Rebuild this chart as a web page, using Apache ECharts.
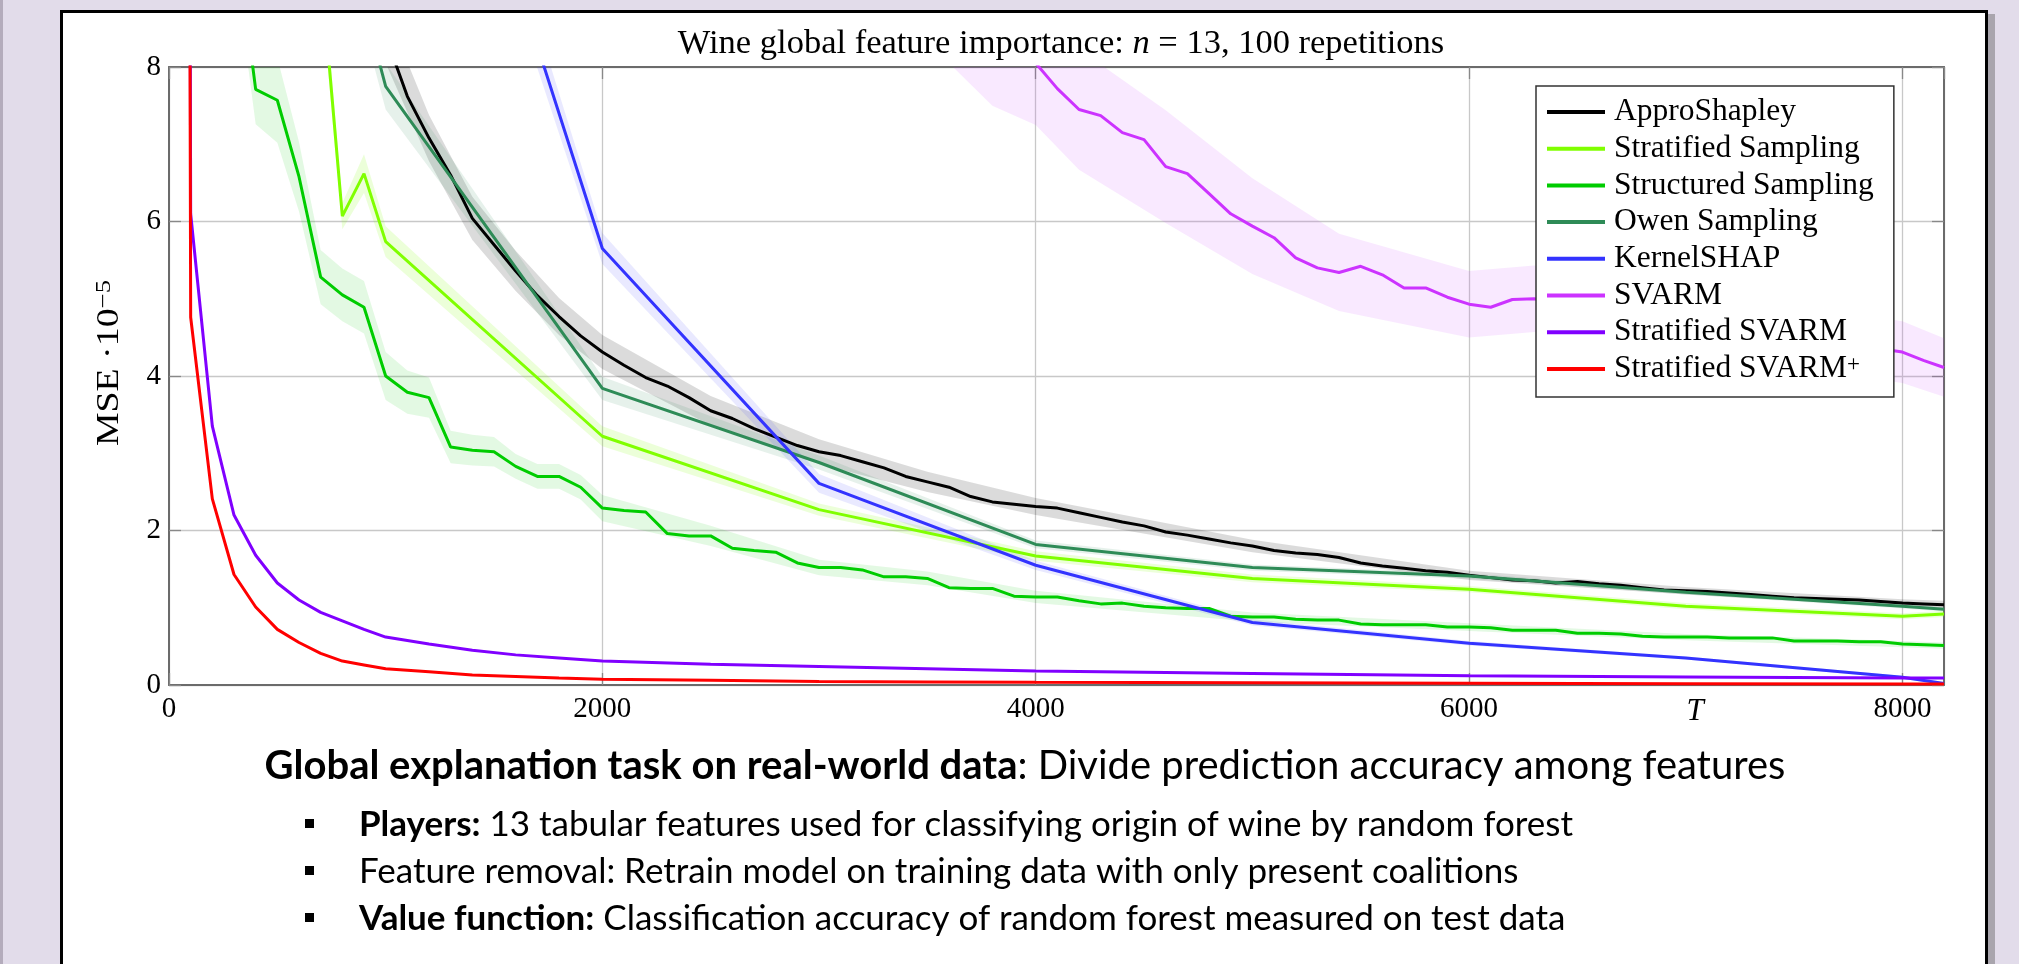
<!DOCTYPE html>
<html>
<head>
<meta charset="utf-8">
<script src="https://cdn.jsdelivr.net/npm/echarts@6.0.0/dist/echarts.min.js"></script>
<style>
html, body { margin: 0; padding: 0; background: #e2dcea; }
#chart { width: 2019px; height: 964px; }
</style>
</head>
<body>
<div id="chart"></div>
<script>
var chartDom = document.getElementById('chart');
var myChart = echarts.init(chartDom);

// [T, MSE * 1e5]
var approShapley = [
  [1000, 8.4], [1100, 7.62], [1200, 7.08], [1300, 6.6], [1400, 6.04], [1500, 5.7], [1600, 5.36], [1700, 5.04], [1800, 4.77], [1900, 4.52], [2000, 4.31],
  [2100, 4.14], [2200, 3.98], [2300, 3.87], [2400, 3.72], [2500, 3.55], [2600, 3.45], [2700, 3.32], [2800, 3.21], [2900, 3.10], [3000, 3.02],
  [3100, 2.97], [3200, 2.89], [3300, 2.81], [3400, 2.70], [3500, 2.63], [3600, 2.56], [3700, 2.44], [3800, 2.37], [3900, 2.34], [4000, 2.31],
  [4100, 2.29], [4200, 2.23], [4300, 2.17], [4400, 2.11], [4500, 2.06], [4600, 1.98], [4700, 1.94], [4800, 1.89], [4900, 1.84], [5000, 1.80],
  [5100, 1.74], [5200, 1.71], [5300, 1.69], [5400, 1.65], [5500, 1.58], [5600, 1.54], [5700, 1.51], [5800, 1.48], [5900, 1.46], [6000, 1.42],
  [6100, 1.39], [6200, 1.36], [6300, 1.35], [6400, 1.32], [6500, 1.34], [6600, 1.31], [6700, 1.29], [6800, 1.26], [6900, 1.23], [7000, 1.22],
  [7100, 1.21], [7200, 1.19], [7300, 1.17], [7400, 1.15], [7500, 1.13], [7600, 1.12], [7700, 1.11], [7800, 1.10], [7900, 1.08], [8000, 1.06],
  [8100, 1.05], [8192, 1.04]
];
var stratifiedSampling = [
  [700, 9.3], [800, 6.07], [900, 6.62], [1000, 5.74], [2000, 3.22], [3000, 2.27], [4000, 1.67],
  [5000, 1.38], [6000, 1.24], [7000, 1.02], [8000, 0.89], [8192, 0.92]
];
var structuredSampling = [
  [300, 9.9], [400, 7.71], [500, 7.57], [600, 6.58], [700, 5.28], [800, 5.05], [900, 4.89], [1000, 4.0],
  [1100, 3.79], [1200, 3.72], [1300, 3.08], [1400, 3.04], [1500, 3.02], [1600, 2.83], [1700, 2.70], [1800, 2.70], [1900, 2.56], [2000, 2.29],
  [2100, 2.26], [2200, 2.24], [2300, 1.96], [2400, 1.93], [2500, 1.93], [2600, 1.77], [2700, 1.74], [2800, 1.72], [2900, 1.58], [3000, 1.52],
  [3100, 1.52], [3200, 1.49], [3300, 1.40], [3400, 1.40], [3500, 1.38], [3600, 1.26], [3700, 1.25], [3800, 1.25], [3900, 1.15], [4000, 1.14],
  [4100, 1.14], [4200, 1.09], [4300, 1.05], [4400, 1.06], [4500, 1.02], [4600, 1.00], [4700, 0.99], [4800, 0.99], [4900, 0.89], [5000, 0.88],
  [5100, 0.88], [5200, 0.85], [5300, 0.84], [5400, 0.84], [5500, 0.79], [5600, 0.78], [5700, 0.78], [5800, 0.78], [5900, 0.75], [6000, 0.75],
  [6100, 0.74], [6200, 0.71], [6300, 0.71], [6400, 0.71], [6500, 0.67], [6600, 0.67], [6700, 0.66], [6800, 0.63], [6900, 0.62], [7000, 0.62],
  [7100, 0.62], [7200, 0.61], [7300, 0.61], [7400, 0.61], [7500, 0.57], [7600, 0.57], [7700, 0.57], [7800, 0.56], [7900, 0.56], [8000, 0.53],
  [8100, 0.52], [8192, 0.51]
];
var owenSampling = [
  [900, 8.8], [1000, 7.75], [2000, 3.84], [3000, 2.88], [4000, 1.82], [5000, 1.52],
  [6000, 1.41], [7000, 1.2], [8000, 1.02], [8192, 0.98]
];
var kernelShap = [
  [1000, 14.4], [2000, 5.65], [3000, 2.61], [4000, 1.55], [5000, 0.81], [6000, 0.54],
  [7000, 0.35], [8000, 0.1], [8192, 0.02]
];
var svarm = [
  [3600, 8.9], [3800, 8.5], [3900, 8.3], [4000, 8.05], [4100, 7.72], [4200, 7.45], [4300, 7.37], [4400, 7.15], [4500, 7.06],
  [4600, 6.71], [4700, 6.62], [4800, 6.36], [4900, 6.10], [5000, 5.94], [5100, 5.79], [5200, 5.53], [5300, 5.40], [5400, 5.34],
  [5500, 5.42], [5600, 5.31], [5700, 5.14], [5800, 5.14], [5900, 5.02], [6000, 4.93], [6100, 4.89], [6200, 4.99], [6300, 5.0],
  [8000, 4.31], [8100, 4.2], [8192, 4.11]
];
var stratifiedSvarm = [
  [50, 70], [100, 6.1], [200, 3.35], [300, 2.2], [400, 1.68], [500, 1.32], [600, 1.1], [700, 0.94], [800, 0.83], [900, 0.72],
  [1000, 0.62], [1200, 0.53], [1400, 0.45], [1600, 0.39], [1800, 0.35], [2000, 0.31], [2500, 0.27], [3000, 0.24], [3500, 0.21],
  [4000, 0.18], [4500, 0.165], [5000, 0.15], [6000, 0.12], [7000, 0.105], [8000, 0.09], [8192, 0.09]
];
var stratifiedSvarmPlus = [
  [50, 60], [100, 4.76], [200, 2.41], [300, 1.43], [400, 1.01], [500, 0.72], [600, 0.55], [700, 0.41], [800, 0.31], [900, 0.26],
  [1000, 0.21], [1200, 0.17], [1400, 0.13], [1600, 0.11], [1800, 0.09], [2000, 0.075], [2500, 0.06], [3000, 0.045], [3500, 0.04],
  [4000, 0.035], [5000, 0.028], [6000, 0.022], [7000, 0.017], [8000, 0.013], [8192, 0.012]
];

// [T, half width of the shaded band]
var approShapleyBand = [[1000, 0.35], [1200, 0.3], [1400, 0.28], [1600, 0.26], [1800, 0.24], [2000, 0.22], [2500, 0.19], [3000, 0.16],
  [3500, 0.13], [4000, 0.11], [5000, 0.08], [6000, 0.06], [7000, 0.05], [8000, 0.05], [8192, 0.05]];
var stratifiedBand = [[700, 0.3], [800, 0.17], [900, 0.25], [1000, 0.2], [2000, 0.13], [3000, 0.08], [4000, 0.06], [5000, 0.05],
  [6000, 0.04], [7000, 0.04], [8000, 0.04], [8192, 0.04]];
var structuredBand = [[300, 0.5], [400, 0.45], [500, 0.55], [600, 0.45], [700, 0.35], [800, 0.34], [900, 0.34], [1000, 0.31],
  [1100, 0.28], [1200, 0.26], [1300, 0.21], [1400, 0.2], [1500, 0.19], [1600, 0.16], [1700, 0.16], [1800, 0.16], [1900, 0.16],
  [2000, 0.17], [2500, 0.13], [3000, 0.1], [3500, 0.09], [4000, 0.08], [5000, 0.06], [6000, 0.05], [7000, 0.04], [8000, 0.04], [8192, 0.04]];
var owenBand = [[900, 0.3], [1000, 0.3], [2000, 0.15], [3000, 0.09], [4000, 0.05], [5000, 0.04], [6000, 0.035], [7000, 0.03],
  [8000, 0.03], [8192, 0.03]];
var kernelBand = [[1000, 0.5], [2000, 0.2], [3000, 0.12], [4000, 0.06], [5000, 0.04], [6000, 0.03], [7000, 0.02], [8000, 0.02], [8192, 0.02]];
var svarmBand = [[3600, 0.85], [3800, 1.0], [4000, 0.8], [4200, 0.78], [4600, 0.73], [5000, 0.62], [5400, 0.5], [6000, 0.43],
  [6300, 0.43], [8000, 0.4], [8192, 0.38]];

var names = ['ApproShapley', 'Stratified Sampling', 'Structured Sampling', 'Owen Sampling', 'KernelSHAP',
  'SVARM', 'Stratified SVARM', 'Stratified SVARM+'];
var lines = [approShapley, stratifiedSampling, structuredSampling, owenSampling, kernelShap,
  svarm, stratifiedSvarm, stratifiedSvarmPlus];
var colors = ['#000000', '#80ff00', '#00cc00', '#2e8b57', '#3333ff', '#cc33ff', '#8000ff', '#ff0000'];

var serif = 'Liberation Serif';
var sans = 'Lato';

function bandSeries(line, spread, fill) {
  var pts = spread.map(function (s) {
    var hit = line.find(function (p) { return p[0] === s[0]; });
    return [s[0], hit[1], s[1]];
  });
  return {
    type: 'custom',
    z: 1,
    clip: true,
    silent: true,
    data: [[pts[0][0], pts[0][1]]],
    renderItem: function (params, api) {
      var upper = pts.map(function (p) { return api.coord([p[0], p[1] + p[2]]); });
      var lower = pts.map(function (p) { return api.coord([p[0], p[1] - p[2]]); }).reverse();
      return { type: 'polygon', shape: { points: upper.concat(lower) }, style: { fill: fill } };
    }
  };
}

var series = [
  bandSeries(approShapley, approShapleyBand, 'rgba(0,0,0,0.14)'),
  bandSeries(stratifiedSampling, stratifiedBand, 'rgba(128,255,0,0.15)'),
  bandSeries(structuredSampling, structuredBand, 'rgba(0,200,0,0.11)'),
  bandSeries(owenSampling, owenBand, 'rgba(46,139,87,0.12)'),
  bandSeries(kernelShap, kernelBand, 'rgba(51,51,255,0.11)'),
  bandSeries(svarm, svarmBand, 'rgba(204,51,255,0.11)')
];
names.forEach(function (name, i) {
  series.push({
    name: name,
    type: 'line',
    data: lines[i],
    symbol: 'none',
    z: 3,
    color: colors[i],
    lineStyle: { width: 3, color: colors[i] }
  });
});

var axisGray = '#6b6b6b';
function xAxisDef(pos, labels) {
  return {
    type: 'value', position: pos, min: 0, max: 8192, interval: 2000,
    axisLine: { show: true, onZero: false, lineStyle: { color: axisGray, width: 2 } },
    axisTick: { show: true, inside: true, length: 12, lineStyle: { color: '#888', width: 1.3 } },
    axisLabel: {
      show: labels, showMaxLabel: false, margin: 10, color: '#000', fontFamily: serif, fontSize: 29,
      formatter: function (v) { return String(v); }
    },
    splitLine: { show: labels, lineStyle: { color: '#c8c8c8', width: 1.3 } }
  };
}
function yAxisDef(pos, labels) {
  return {
    type: 'value', position: pos, min: 0, max: 8, interval: 2,
    axisLine: { show: true, onZero: false, lineStyle: { color: axisGray, width: 2 } },
    axisTick: { show: true, inside: true, length: 12, lineStyle: { color: '#888', width: 1.3 } },
    axisLabel: { show: labels, margin: 8, color: '#000', fontFamily: serif, fontSize: 29 },
    splitLine: { show: labels, lineStyle: { color: '#c8c8c8', width: 1.3 } }
  };
}

option = {
  backgroundColor: '#e2dcea',
  animation: false,
  title: {
    text: '{a|Wine global feature importance: }{i|n}{a| = 13, 100 repetitions}',
    left: 1056,
    top: 21,
    textAlign: 'center',
    textStyle: {
      fontWeight: 'normal',
      rich: {
        a: { fontFamily: serif, fontSize: 34.5, fontWeight: 'normal', color: '#000' },
        i: { fontFamily: serif, fontSize: 34.5, fontWeight: 'normal', fontStyle: 'italic', color: '#000' }
      }
    }
  },
  grid: { left: 169, right: 75, top: 67, bottom: 279, containLabel: false, outerBoundsMode: 'none' },
  xAxis: [xAxisDef('bottom', true), xAxisDef('top', false)],
  yAxis: [yAxisDef('left', true), yAxisDef('right', false)],
  legend: {
    data: names,
    orient: 'vertical',
    left: 1536,
    top: 86,
    backgroundColor: '#fff',
    borderColor: '#333',
    borderWidth: 1.5,
    padding: [10, 20, 12, 11],
    itemWidth: 58,
    itemHeight: 30,
    itemGap: 4.7,
    icon: 'path://M0,0L58,0L58,4L0,4Z',
    selectedMode: false,
    formatter: function (name) {
      if (name === 'Stratified SVARM+') return '{a|Stratified SVARM}{s|+}';
      return '{a|' + name + '}';
    },
    textStyle: {
      color: '#000',
      rich: {
        a: { fontFamily: serif, fontSize: 31.5, color: '#000', lineHeight: 30, padding: [0, 0, 0, 4] },
        s: { fontFamily: serif, fontSize: 23, color: '#000', verticalAlign: 'top', lineHeight: 30 }
      }
    }
  },
  graphic: {
    elements: [
      { type: 'rect', z: -100, shape: { x: 0, y: 0, width: 3, height: 964 }, style: { fill: '#b4acbc' } },
      { type: 'rect', z: -99, shape: { x: 1988, y: 14, width: 7, height: 960 }, style: { fill: '#a9a5ad' } },
      { type: 'rect', z: -98, shape: { x: 61.5, y: 11.5, width: 1925, height: 1000 }, style: { fill: '#fff', stroke: '#000', lineWidth: 3 } },
      {
        type: 'text', z: 50, x: 110, y: 363, rotation: Math.PI / 2, scaleX: 1.22,
        style: {
          text: '{a|MSE ·10}{s|−5}', align: 'center', verticalAlign: 'middle',
          rich: {
            a: { fontFamily: serif, fontSize: 31, fill: '#000', lineHeight: 34 },
            s: { fontFamily: serif, fontSize: 22, fill: '#000', verticalAlign: 'top', lineHeight: 34 }
          }
        }
      },
      {
        type: 'text', z: 50, x: 1695, y: 712,
        style: { text: 'T', align: 'center', verticalAlign: 'middle', fontFamily: serif, fontSize: 31, fontStyle: 'italic', fill: '#000' }
      },
      {
        type: 'text', z: 50, x: 1025, y: 766,
        style: {
          text: '{b|Global explanation task on real-world data}{r|: Divide prediction accuracy among features}',
          align: 'center', verticalAlign: 'middle',
          rich: {
            b: { fontFamily: sans, fontWeight: 'bold', fontSize: 40, fill: '#000' },
            r: { fontFamily: sans, fontSize: 40, fill: '#000' }
          }
        }
      },
      { type: 'rect', z: 50, shape: { x: 305, y: 819, width: 9, height: 9 }, style: { fill: '#000' } },
      { type: 'rect', z: 50, shape: { x: 305, y: 866, width: 9, height: 9 }, style: { fill: '#000' } },
      { type: 'rect', z: 50, shape: { x: 305, y: 913, width: 9, height: 9 }, style: { fill: '#000' } },
      {
        type: 'text', z: 50, x: 359, y: 825,
        style: {
          text: '{b|Players:}{r| 13 tabular features used for classifying origin of wine by random forest}',
          align: 'left', verticalAlign: 'middle',
          rich: {
            b: { fontFamily: sans, fontWeight: 'bold', fontSize: 35, fill: '#000' },
            r: { fontFamily: sans, fontSize: 35, fill: '#000' }
          }
        }
      },
      {
        type: 'text', z: 50, x: 359, y: 872,
        style: { text: 'Feature removal: Retrain model on training data with only present coalitions', align: 'left', verticalAlign: 'middle',
          fontFamily: sans, fontSize: 35, fill: '#000' }
      },
      {
        type: 'text', z: 50, x: 359, y: 919,
        style: {
          text: '{b|Value function:}{r| Classification accuracy of random forest measured on test data}',
          align: 'left', verticalAlign: 'middle',
          rich: {
            b: { fontFamily: sans, fontWeight: 'bold', fontSize: 35, fill: '#000' },
            r: { fontFamily: sans, fontSize: 35, fill: '#000' }
          }
        }
      }
    ]
  },
  series: series
};

option && myChart.setOption(option);
</script>
</body>
</html>
